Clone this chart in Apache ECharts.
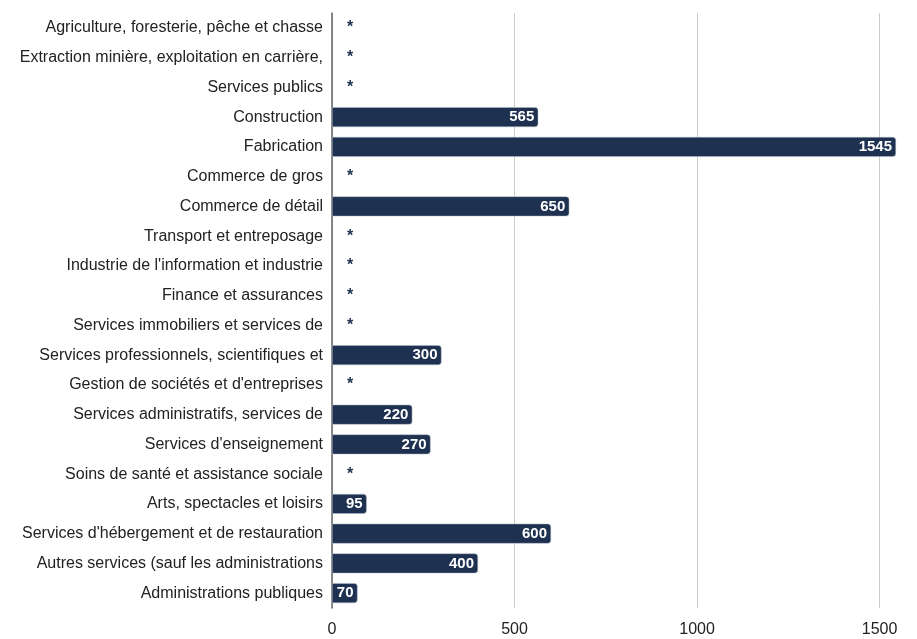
<!DOCTYPE html>
<html>
<head>
<meta charset="utf-8">
<script src="https://cdn.jsdelivr.net/npm/echarts@6/dist/echarts.min.js"></script>
<style>
  html, body { margin: 0; padding: 0; background: #fff; }
  #chart { width: 917px; height: 639px; }
</style>
</head>
<body>
<div id="chart"></div>
<script>
// catégories (haut vers bas)
var categories = [
  "Agriculture, foresterie, pêche et chasse",
  "Extraction minière, exploitation en carrière,",
  "Services publics",
  "Construction",
  "Fabrication",
  "Commerce de gros",
  "Commerce de détail",
  "Transport et entreposage",
  "Industrie de l'information et industrie",
  "Finance et assurances",
  "Services immobiliers et services de",
  "Services professionnels, scientifiques et",
  "Gestion de sociétés et d'entreprises",
  "Services administratifs, services de",
  "Services d'enseignement",
  "Soins de santé et assistance sociale",
  "Arts, spectacles et loisirs",
  "Services d'hébergement et de restauration",
  "Autres services (sauf les administrations",
  "Administrations publiques"
];
// null = valeur supprimée (*)
var values = [null, null, null, 565, 1545, null, 650, null, null, null, null, 300, null, 220, 270, null, 95, 600, 400, 70];
var xTicks = [0, 500, 1000, 1500];

var barColor = "#1f3150";
var font = "Liberation Sans, Arial, sans-serif";

var seriesData = values.map(function (v) {
  if (v === null) {
    return {
      value: 0,
      itemStyle: { color: "transparent", borderWidth: 0 },
      label: {
        show: true,
        position: "right",
        distance: 15,
        color: barColor,
        fontWeight: "bold",
        fontSize: 16,
        formatter: "*"
      }
    };
  }
  return v;
});

var chart = echarts.init(document.getElementById("chart"));
chart.setOption({
  animation: false,
  grid: { left: 332, right: 21, top: 13, bottom: 31 },
  xAxis: {
    type: "value",
    min: 0,
    max: 1545,
    interval: 500,
    axisLine: { show: false },
    axisTick: { show: false },
    axisLabel: {
      color: "#222",
      fontSize: 16,
      fontFamily: font,
      margin: 14,
      showMaxLabel: false,
      formatter: function (v) { return xTicks.indexOf(v) >= 0 ? String(v) : ""; }
    },
    splitLine: { showMaxLine: false, lineStyle: { color: "#cccccc", width: 1 } }
  },
  yAxis: {
    type: "category",
    inverse: true,
    data: categories,
    axisLine: { show: true, lineStyle: { color: "#666", width: 1.5 } },
    axisTick: { show: false },
    axisLabel: {
      color: "#222",
      fontSize: 16,
      fontFamily: font,
      margin: 9
    }
  },
  series: [{
    type: "bar",
    data: seriesData,
    barWidth: "67%",
    itemStyle: {
      color: barColor,
      borderRadius: [0, 3, 3, 0],
      borderColor: "#b8c0cc",
      borderWidth: 0.5
    },
    label: {
      show: true,
      position: "insideRight",
      distance: 4,
      color: "#fff",
      fontWeight: "bold",
      fontSize: 15,
      fontFamily: font
    }
  }]
});
</script>
</body>
</html>
